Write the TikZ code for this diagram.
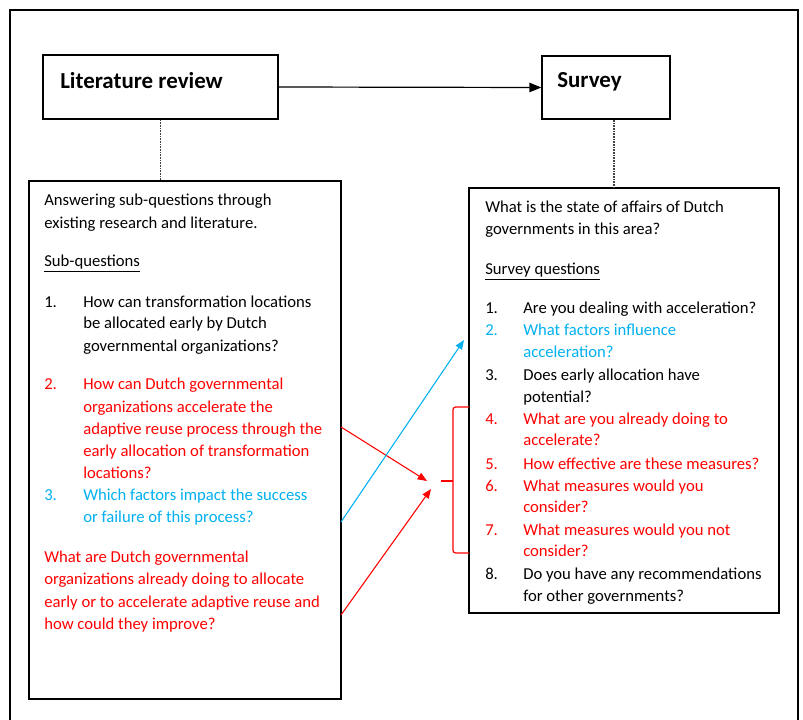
\documentclass[tikz,border=0pt]{standalone}
\usepackage{fontspec}
\setmainfont{Carlito}
\usetikzlibrary{arrows.meta,fit}
\definecolor{qred}{HTML}{FF0000}
\definecolor{qblue}{HTML}{00B0F0}
\newcommand{\bodyfont}{\fontsize{12.5}{16.6}\selectfont}
\newcommand{\titlefont}{\fontsize{17.2}{20}\selectfont\bfseries}
\begin{document}
\begin{tikzpicture}[x=0.75pt,y=-0.75pt,
  txt/.style={anchor=base west, inner sep=0pt, font=\bodyfont, yshift=-1.5pt},
  ttl/.style={anchor=base west, inner sep=0pt, font=\titlefont, yshift=-1.5pt},
  box/.style={draw, line width=0.9pt, inner sep=0pt},
  link/.style={line width=0.9pt},
  dots/.style={line width=1pt, black!75, dash pattern=on 1.2pt off 0.8pt},
  rd/.style={qred}, bl/.style={qblue}]
\useasboundingbox (0,0) rectangle (803,720);

% outer frame, open at the bottom
\begin{scope}
\clip (0,0) rectangle (803,720);
\draw[line width=1.5pt] (10,725) -- (10,10) -- (798,10) -- (798,725);
\end{scope}

% corner points of the boxes
\coordinate (litA) at (43,55);   \coordinate (litB) at (278,119);
\coordinate (surA) at (542,56);  \coordinate (surB) at (670,119);
\coordinate (lbA) at (29,181);   \coordinate (lbB) at (341,699);
\coordinate (rbA) at (469,188);  \coordinate (rbB) at (779,613);

\node[box, fit=(litA)(litB)] (lit) {};
\node[box, fit=(surA)(surB)] (sur) {};
\node[box, fit=(lbA)(lbB)] (lbox) {};
\node[box, fit=(rbA)(rbB)] (rbox) {};

\node[ttl] (littitle) at (60,87) {Literature review};
\node[ttl] (surtitle) at (557,86) {Survey};

% main flow
\draw[link, -{Triangle[length=9pt,width=7pt]}] (lit.east) -- (sur.west);
\draw[dots] (lit.south) -- (lit.south |- lbox.north);
\coordinate (sd) at (614,120);
\draw[dots] (sd) -- (sd |- rbox.north);

% left box text
\node[txt] (a1) at (44,204) {Answering sub-questions through};
\node[txt] (a2) at (44,227) {existing research and literature.};
\node[txt] (sq) at (44,265) {\underline{Sub-questions}};
\node[txt] (n1) at (44,305) {1.};
\node[txt] (t1a) at (83,305) {How can transformation locations};
\node[txt] (t1b) at (83,327) {be allocated early by Dutch};
\node[txt] (t1c) at (83,349) {governmental organizations?};
\node[txt,rd] (n2) at (44,387) {2.};
\node[txt,rd] (t2a) at (83,387) {How can Dutch governmental};
\node[txt,rd] (t2b) at (83,410) {organizations accelerate the};
\node[txt,rd] (t2c) at (83,432) {adaptive reuse process through the};
\node[txt,rd] (t2d) at (83,454) {early allocation of transformation};
\node[txt,rd] (t2e) at (83,476) {locations?};
\node[txt,bl] (n3) at (44,498) {3.};
\node[txt,bl] (t3a) at (83,498) {Which factors impact the success};
\node[txt,bl] (t3b) at (83,520) {or failure of this process?};
\node[txt,rd] (p1) at (44,560) {What are Dutch governmental};
\node[txt,rd] (p2) at (44,582) {organizations already doing to allocate};
\node[txt,rd] (p3) at (44,605) {early or to accelerate adaptive reuse and};
\node[txt,rd] (p4) at (44,627) {how could they improve?};

% right box text
\node[txt] (r1) at (485,211) {What is the state of affairs of Dutch};
\node[txt] (r2) at (485,233) {governments in this area?};
\node[txt] (rs) at (485,273) {\underline{Survey questions}};
\node[txt] (m1) at (485,312) {1.};
\node[txt] (s1) at (523,312) {Are you dealing with acceleration?};
\node[txt,bl] (m2) at (485,333) {2.};
\node[txt,bl] (s2a) at (523,333) {What factors influence};
\node[txt,bl] (s2b) at (523,355) {acceleration?};
\node[txt] (m3) at (485,378) {3.};
\node[txt] (s3a) at (523,378) {Does early allocation have};
\node[txt] (s3b) at (523,400) {potential?};
\node[txt,rd] (m4) at (485,422) {4.};
\node[txt,rd] (s4a) at (523,422) {What are you already doing to};
\node[txt,rd] (s4b) at (523,443) {accelerate?};
\node[txt,rd] (m5) at (485,467) {5.};
\node[txt,rd] (s5) at (523,467) {How effective are these measures?};
\node[txt,rd] (m6) at (485,489) {6.};
\node[txt,rd] (s6a) at (523,489) {What measures would you};
\node[txt,rd] (s6b) at (523,510) {consider?};
\node[txt,rd] (m7) at (485,533) {7.};
\node[txt,rd] (s7a) at (523,533) {What measures would you not};
\node[txt,rd] (s7b) at (523,554) {consider?};
\node[txt] (m8) at (485,577) {8.};
\node[txt] (s8a) at (523,577) {Do you have any recommendations};
\node[txt] (s8b) at (523,599) {for other governments?};

% bracket grouping survey questions 4 to 7
\coordinate (bt) at (469,407);
\coordinate (bb) at (469,553);
\coordinate (bm) at (441,481);
\draw[qred, line width=0.9pt, rounded corners=2pt]
  (bt) -- (453,407) -- (453,553) -- (bb);
\draw[qred, line width=0.9pt] (453,481) -- (bm);

% links from the left box into the survey
\coordinate (e2) at (341,427);
\coordinate (e3) at (341,522);
\coordinate (e4) at (341,615);
\coordinate (h2) at (427,481);
\coordinate (h3) at (464,340);
\coordinate (h4) at (431,489);
\draw[qred, line width=0.8pt, -{Triangle[length=7pt,width=5.5pt]}] (e2) -- (h2);
\draw[qred, line width=0.8pt, -{Triangle[length=7pt,width=5.5pt]}] (e4) -- (h4);
\draw[qblue, line width=0.8pt, -{Triangle[length=7pt,width=5.5pt]}] (e3) -- (h3);
\end{tikzpicture}
\end{document}
